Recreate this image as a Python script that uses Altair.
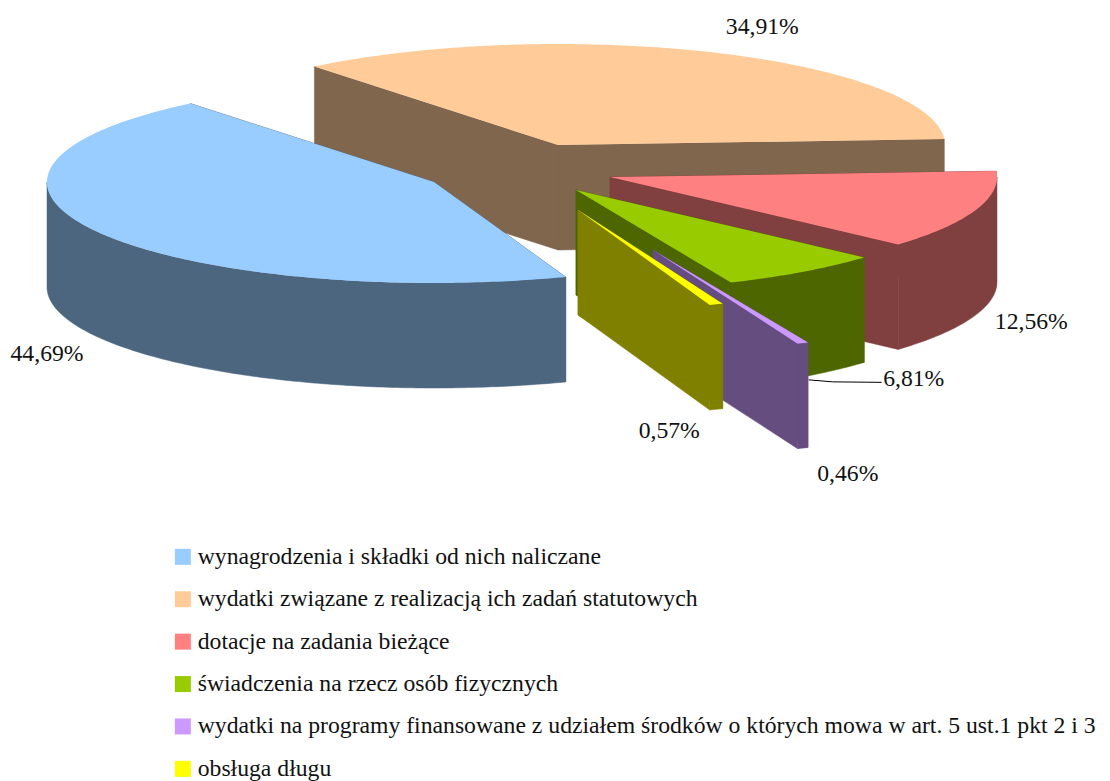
import math
import altair as alt
import pandas as pd

categories = [
    "wynagrodzenia i składki od nich naliczane",
    "wydatki związane z realizacją ich zadań statutowych",
    "dotacje na zadania bieżące",
    "świadczenia na rzecz osób fizycznych",
    "wydatki na programy finansowane z udziałem środków o których mowa w art. 5 ust.1 pkt 2 i 3",
    "obsługa długu",
]
values = [44.69, 34.91, 12.56, 6.81, 0.46, 0.57]
labels = ["44,69%", "34,91%", "12,56%", "6,81%", "0,46%", "0,57%"]
top_colors = ["#99CCFF", "#FFCC99", "#FF8080", "#99CC00", "#CC99FF", "#FFFF00"]
side_colors = ["#4D6680", "#80664D", "#804040", "#4D6600", "#664D80", "#808000"]

# layout of the exploded 3-D pie (page pixels)
centres = [(434, 182), (558, 145), (610, 177), (576, 190), (653, 250), (578, 210)]
label_offsets = [(-50, 122), (48, -26), (56, 112), (111, 107), (45, 131), (-47, 127)]
RX, RY, DEPTH = 387, 101, 105
START = 70.1
DRAW_ORDER = [1, 2, 0, 3, 4, 5]


def pt(c, t, dz=0):
    r = math.radians(t)
    return (max(c[0] + RX * math.cos(r), 46), c[1] + RY * math.sin(r) + dz)


spans, a = [], START
for v in values:
    spans.append((a, a + v * 3.6))
    a += v * 3.6

sides, tops, text_rows, leader = [], [], [], []


def add(rows, key, points, **extra):
    for i, (x, y) in enumerate(points):
        rows.append(dict(poly=key, ord=i, x=x, y=y, **extra))


def arc(c, t0, t1, dz=0):
    n = max(2, int(abs(t1 - t0) / 0.75) + 1)
    return [pt(c, t0 + (t1 - t0) * k / n, dz) for k in range(n + 1)]


for idx in DRAW_ORDER:
    c = centres[idx]
    t0, t1 = spans[idx]
    col = side_colors[idx]
    below = (c[0], c[1] + DEPTH)
    for j, t in enumerate((t0, t1)):
        add(sides, f"cut{idx}_{j}", [c, pt(c, t), pt(c, t, DEPTH), below], color=col)
    # outer wall: only the front half of the ellipse can be seen
    for shift in (0, 360, -360):
        lo, hi = max(t0 + shift, 0), min(t1 + shift, 180)
        if hi > lo:
            add(sides, f"wall{idx}_{shift}", arc(c, lo, hi) + arc(c, hi, lo, DEPTH), color=col)
    add(tops, f"top{idx}", [c] + arc(c, t0, t1), cat=categories[idx])

for idx in range(6):
    c = centres[idx]
    mid = sum(spans[idx]) / 2
    ax, ay = pt(c, mid)
    dx, dy = label_offsets[idx]
    text_rows.append(dict(x=ax + dx, y=ay + dy, label=labels[idx]))
    if idx == 3:
        leader = [dict(x=ax + 6, y=ay + 108, o=0), dict(x=ax + 30, y=ay + 110, o=1), dict(x=ax + 79, y=ay + 110.5, o=2)]

X = alt.X("x:Q", scale=alt.Scale(domain=[8, 1102], nice=False, zero=False), axis=None)
Y = alt.Y("y:Q", scale=alt.Scale(domain=[781, 8], nice=False, zero=False), axis=None)

side_layer = alt.Chart(pd.DataFrame(sides)).mark_line(
    interpolate="linear-closed", strokeWidth=0.5
).encode(
    x=X, y=Y, order="ord:Q", detail="poly:N",
    fill=alt.Fill("color:N", scale=None),
    stroke=alt.Stroke("color:N", scale=None),
)

top_layer = alt.Chart(pd.DataFrame(tops)).mark_line(
    interpolate="linear-closed", strokeWidth=0
).encode(
    x=X, y=Y, order="ord:Q", detail="poly:N",
    fill=alt.Fill(
        "cat:N",
        scale=alt.Scale(domain=categories, range=top_colors),
        sort=categories,
        legend=alt.Legend(
            orient="none", legendX=163, legendY=537, title=None,
            symbolType="square", symbolSize=256, symbolStrokeWidth=0,
            labelFont="Liberation Serif", labelFontSize=23.7, labelColor="#111111",
            labelLimit=1000, labelOffset=3, rowPadding=17.4, padding=0,
        ),
    ),
)

leader_layer = alt.Chart(pd.DataFrame(leader)).mark_line(color="#000000", strokeWidth=1).encode(
    x=X, y=Y, order="o:Q"
)

text_layer = alt.Chart(pd.DataFrame(text_rows)).mark_text(
    font="Liberation Serif", fontSize=23.7, color="#111111", align="center", baseline="middle"
).encode(x=X, y=Y, text="label:N")

chart = alt.layer(side_layer, top_layer, leader_layer, text_layer).resolve_scale(
    fill="independent", stroke="independent"
).properties(
    width=1094, height=773, padding=0, background="#FFFFFF",
    autosize=alt.AutoSizeParams(type="none"),
).configure_view(stroke=None)

chart.save("out.html", embed_options={"renderer": "svg", "actions": False})
